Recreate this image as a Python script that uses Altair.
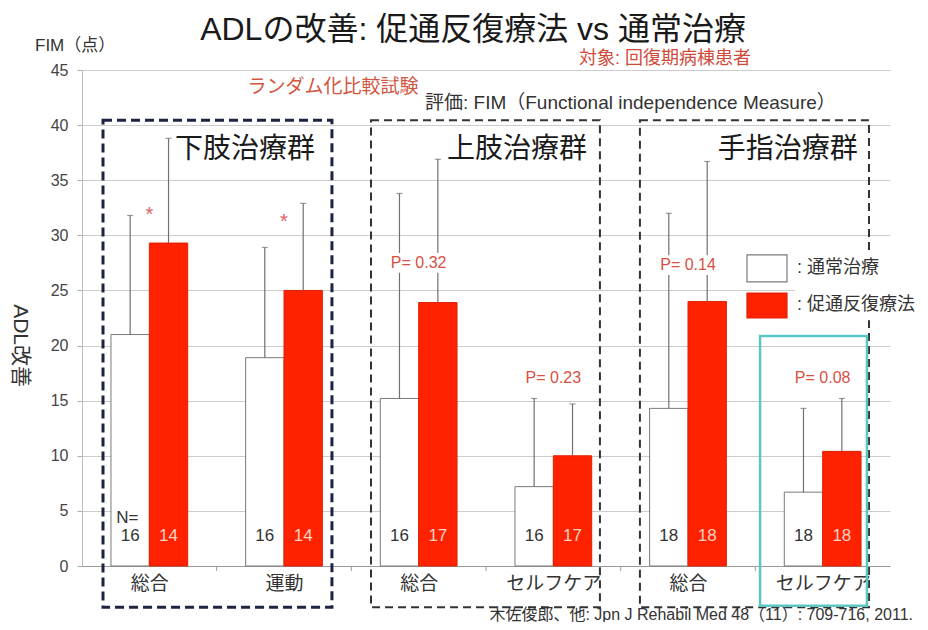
import altair as alt
import pandas as pd

# ---------------- data ----------------
categories = ["総合", "運動", "総合", "セルフケア", "総合", "セルフケア"]
series_names = ["通常治療", "促通反復療法"]
usual_mean = [21.0, 18.9, 15.2, 7.2, 14.3, 6.7]
usual_err_top = [31.8, 28.9, 33.8, 15.2, 32.0, 14.3]
facil_mean = [29.3, 25.0, 23.9, 10.0, 24.0, 10.4]
facil_err_top = [38.8, 32.9, 36.9, 14.7, 36.7, 15.2]
n_usual = [16, 16, 16, 16, 18, 18]
n_facil = [14, 14, 17, 17, 18, 18]
sig_labels = ["*", "*", "P= 0.32", "P= 0.23", "P= 0.14", "P= 0.08"]
sig_y = [32.2, 31.6, 27.5, 17.1, 27.3, 17.1]
group_names = ["下肢治療群", "上肢治療群", "手指治療群"]
y_ticks = [0, 5, 10, 15, 20, 25, 30, 35, 40, 45]

# ---------------- style / layout ----------------
FONT = "Liberation Sans, Noto Sans CJK JP"
RED = "#ff2200"
BAR_W = 0.285
W, H = 808, 496

x_scale = alt.Scale(domain=[0, 6], nice=False, zero=False)
y_scale = alt.Scale(domain=[0, 45], nice=False, zero=False)
label_js = "[" + ",".join("'%s'" % c for c in categories) + "][floor(datum.value)]"
x_axis = alt.Axis(values=[i + 0.5 for i in range(len(categories))], labelExpr=label_js,
                  title=None, ticks=False, grid=False, domainColor="#999",
                  labelFontSize=19, labelColor="#333", labelPadding=8, labelFont=FONT)
y_axis = alt.Axis(values=y_ticks, title=None, grid=True, gridColor="#cccccc",
                  tickColor="#aaa", tickSize=5, domainColor="#bbb",
                  labelFontSize=16, labelColor="#444", labelPadding=9, labelFont=FONT)


def X(f):
    return alt.X(f, type="quantitative", scale=x_scale, axis=x_axis)


def Y(f):
    return alt.Y(f, type="quantitative", scale=y_scale, axis=y_axis)


color_scale = alt.Scale(domain=series_names, range=["#ffffff", RED])
stroke_scale = alt.Scale(domain=series_names, range=["#7a7a7a", "#e02000"])

# bars table
rows = []
for i, cat in enumerate(categories):
    c = i + 0.5
    rows.append(dict(idx=i, cat=cat, series=series_names[0], mean=usual_mean[i],
                     err=usual_err_top[i], n=n_usual[i],
                     x0=c - BAR_W, x1=c, xc=c - BAR_W / 2, ny=2.7))
    rows.append(dict(idx=i, cat=cat, series=series_names[1], mean=facil_mean[i],
                     err=facil_err_top[i], n=n_facil[i],
                     x0=c, x1=c + BAR_W, xc=c + BAR_W / 2, ny=2.7))
bars_df = pd.DataFrame(rows)
bars_df["zero"] = 0.0

base = alt.Chart(bars_df)

bars = base.mark_rect(strokeWidth=1).encode(
    x=X("x0"), x2="x1", y=Y("mean"), y2="zero",
    fill=alt.Fill("series:N", scale=color_scale, legend=None),
    stroke=alt.Stroke("series:N", scale=stroke_scale, legend=None),
)
err_rules = base.mark_rule(color="#707070", strokeWidth=1.2).encode(
    x=X("xc"), y=Y("mean"), y2="err")
err_caps = base.mark_tick(orient="horizontal", size=6, thickness=1.2, color="#707070").encode(
    x=X("xc"), y=Y("err"))

n_white = alt.Chart(bars_df[bars_df.series == series_names[0]]).mark_text(
    font=FONT, fontSize=17, color="#333").encode(x=X("xc"), y=Y("ny"), text="n:N")
n_red = alt.Chart(bars_df[bars_df.series == series_names[1]]).mark_text(
    font=FONT, fontSize=17, color="#ffd2c4").encode(x=X("xc"), y=Y("ny"), text="n:N")
n_eq = alt.Chart(pd.DataFrame([dict(x=bars_df.xc[0] - 0.02, y=4.4, t="N=")])).mark_text(
    font=FONT, fontSize=17, color="#333").encode(x=X("x"), y=Y("y"), text="t:N")

# boundary ticks on the x axis
bt = pd.DataFrame(dict(x=[1, 2, 3, 4, 5], y0=[0.0] * 5, y1=[-0.45] * 5))
bticks = alt.Chart(bt).mark_rule(color="#999").encode(x=X("x"), y=Y("y0"), y2="y1")

# significance labels
sig_df = pd.DataFrame(dict(x=[i + 0.5 for i in range(6)], y=sig_y, t=sig_labels))
sig_df["x0"] = sig_df.x - 0.23
sig_df["x1"] = sig_df.x + 0.23
sig_df["y0"] = sig_df.y - 0.9
sig_df["y1"] = sig_df.y + 0.9
p_df = sig_df[sig_df.t != "*"]
star_df = sig_df[sig_df.t == "*"]
p_bg = alt.Chart(p_df).mark_rect(fill="white").encode(x=X("x0"), x2="x1", y=Y("y0"), y2="y1")
p_txt = alt.Chart(p_df).mark_text(font=FONT, fontSize=16, color="#d8503f").encode(
    x=X("x"), y=Y("y"), text="t:N")
stars = alt.Chart(star_df).mark_text(font=FONT, fontSize=20, color="#e06060", dy=4).encode(
    x=X("x"), y=Y("y"), text="t:N")

# group dashed boxes
box_df = pd.DataFrame(dict(x0=[0.156, 2.146, 4.143], x1=[1.856, 3.846, 5.844],
                           y0=[-3.75] * 3, y1=[40.45] * 3, g=group_names,
                           tx=[1.73, 3.75, 5.76], ty=[37.7] * 3))
box1 = alt.Chart(box_df.iloc[[0]]).mark_rect(
    fillOpacity=0, stroke="#1c2444", strokeWidth=3, strokeDash=[9, 5]).encode(
    x=X("x0"), x2="x1", y=Y("y0"), y2="y1")
box23 = alt.Chart(box_df.iloc[[1, 2]]).mark_rect(
    fillOpacity=0, stroke="#333", strokeWidth=2, strokeDash=[8, 5]).encode(
    x=X("x0"), x2="x1", y=Y("y0"), y2="y1")
group_txt = alt.Chart(box_df).mark_text(font=FONT, fontSize=28, color="#1a1a1a",
                                        align="right").encode(
    x=X("tx"), y=Y("ty"), text="g:N")

# cyan highlight box
cyan_df = pd.DataFrame([dict(x0=5.035, x1=5.829, y0=-3.6, y1=20.87)])
cyan = alt.Chart(cyan_df).mark_rect(fillOpacity=0, stroke="#5cc6c6", strokeWidth=2.5).encode(
    x=X("x0"), x2="x1", y=Y("y0"), y2="y1")

# legend
leg_bg = alt.Chart(pd.DataFrame([dict(x0=5.294, x1=6.3, y0=22.3, y1=28.3)])).mark_rect(
    fill="white").encode(x=X("x0"), x2="x1", y=Y("y0"), y2="y1")
leg_df = pd.DataFrame(dict(series=series_names, x0=[4.938] * 2, x1=[5.235] * 2,
                           y0=[25.77, 22.5], y1=[28.22, 24.77], tx=[5.309] * 2,
                           ty=[27.04, 23.68]))
leg_df["label"] = ": " + leg_df.series
leg_sw = alt.Chart(leg_df).mark_rect(strokeWidth=1.2).encode(
    x=X("x0"), x2="x1", y=Y("y0"), y2="y1",
    fill=alt.Fill("series:N", scale=color_scale, legend=None),
    stroke=alt.Stroke("series:N", scale=stroke_scale, legend=None))
leg_txt = alt.Chart(leg_df).mark_text(font=FONT, fontSize=18, color="#333", align="left").encode(
    x=X("tx"), y=Y("ty"), text="label:N")

# annotations
def note(x, y, t, **kw):
    return alt.Chart(pd.DataFrame([dict(x=x, y=y, t=t)])).mark_text(font=FONT, **kw).encode(
        x=X("x"), y=Y("y"), text="t:N")

title = note(2.904, 48.63, "ADLの改善: 促通反復療法 vs 通常治療", fontSize=32, color="#1a1a1a")
fim = note(-0.349, 47.18, "FIM（点）", fontSize=17, color="#333", align="left")
target = note(4.329, 46.0, "対象: 回復期病棟患者", fontSize=18, color="#d04a3a")
rct = note(1.864, 43.46, "ランダム化比較試験", fontSize=19, color="#d2553f")
evalt = note(2.547, 42.0, "評価: FIM（Functional independence Measure）", fontSize=19,
             color="#333", align="left")
cite = note(6.171, -4.9, "木佐俊郎、他: Jpn J Rehabil Med 48（11）: 709-716, 2011.",
            fontSize=16, color="#333", align="right", baseline="alphabetic")
ytitle = note(-0.46, 20.0, "ADL改善", fontSize=21, color="#333", angle=90)

chart = alt.layer(
    bars, err_rules, err_caps, p_bg, p_txt, stars, n_white, n_red, n_eq, bticks,
    box1, box23, group_txt, leg_bg, leg_sw, leg_txt, cyan,
    title, fim, target, rct, evalt, cite, ytitle,
).properties(
    width=W, height=H,
    autosize=alt.AutoSizeParams(type="none"),
    padding={"left": 74, "top": 62, "right": 30, "bottom": 56},
).configure_view(stroke=None)

chart.save("out.html", embed_options={"renderer": "svg", "actions": False})
